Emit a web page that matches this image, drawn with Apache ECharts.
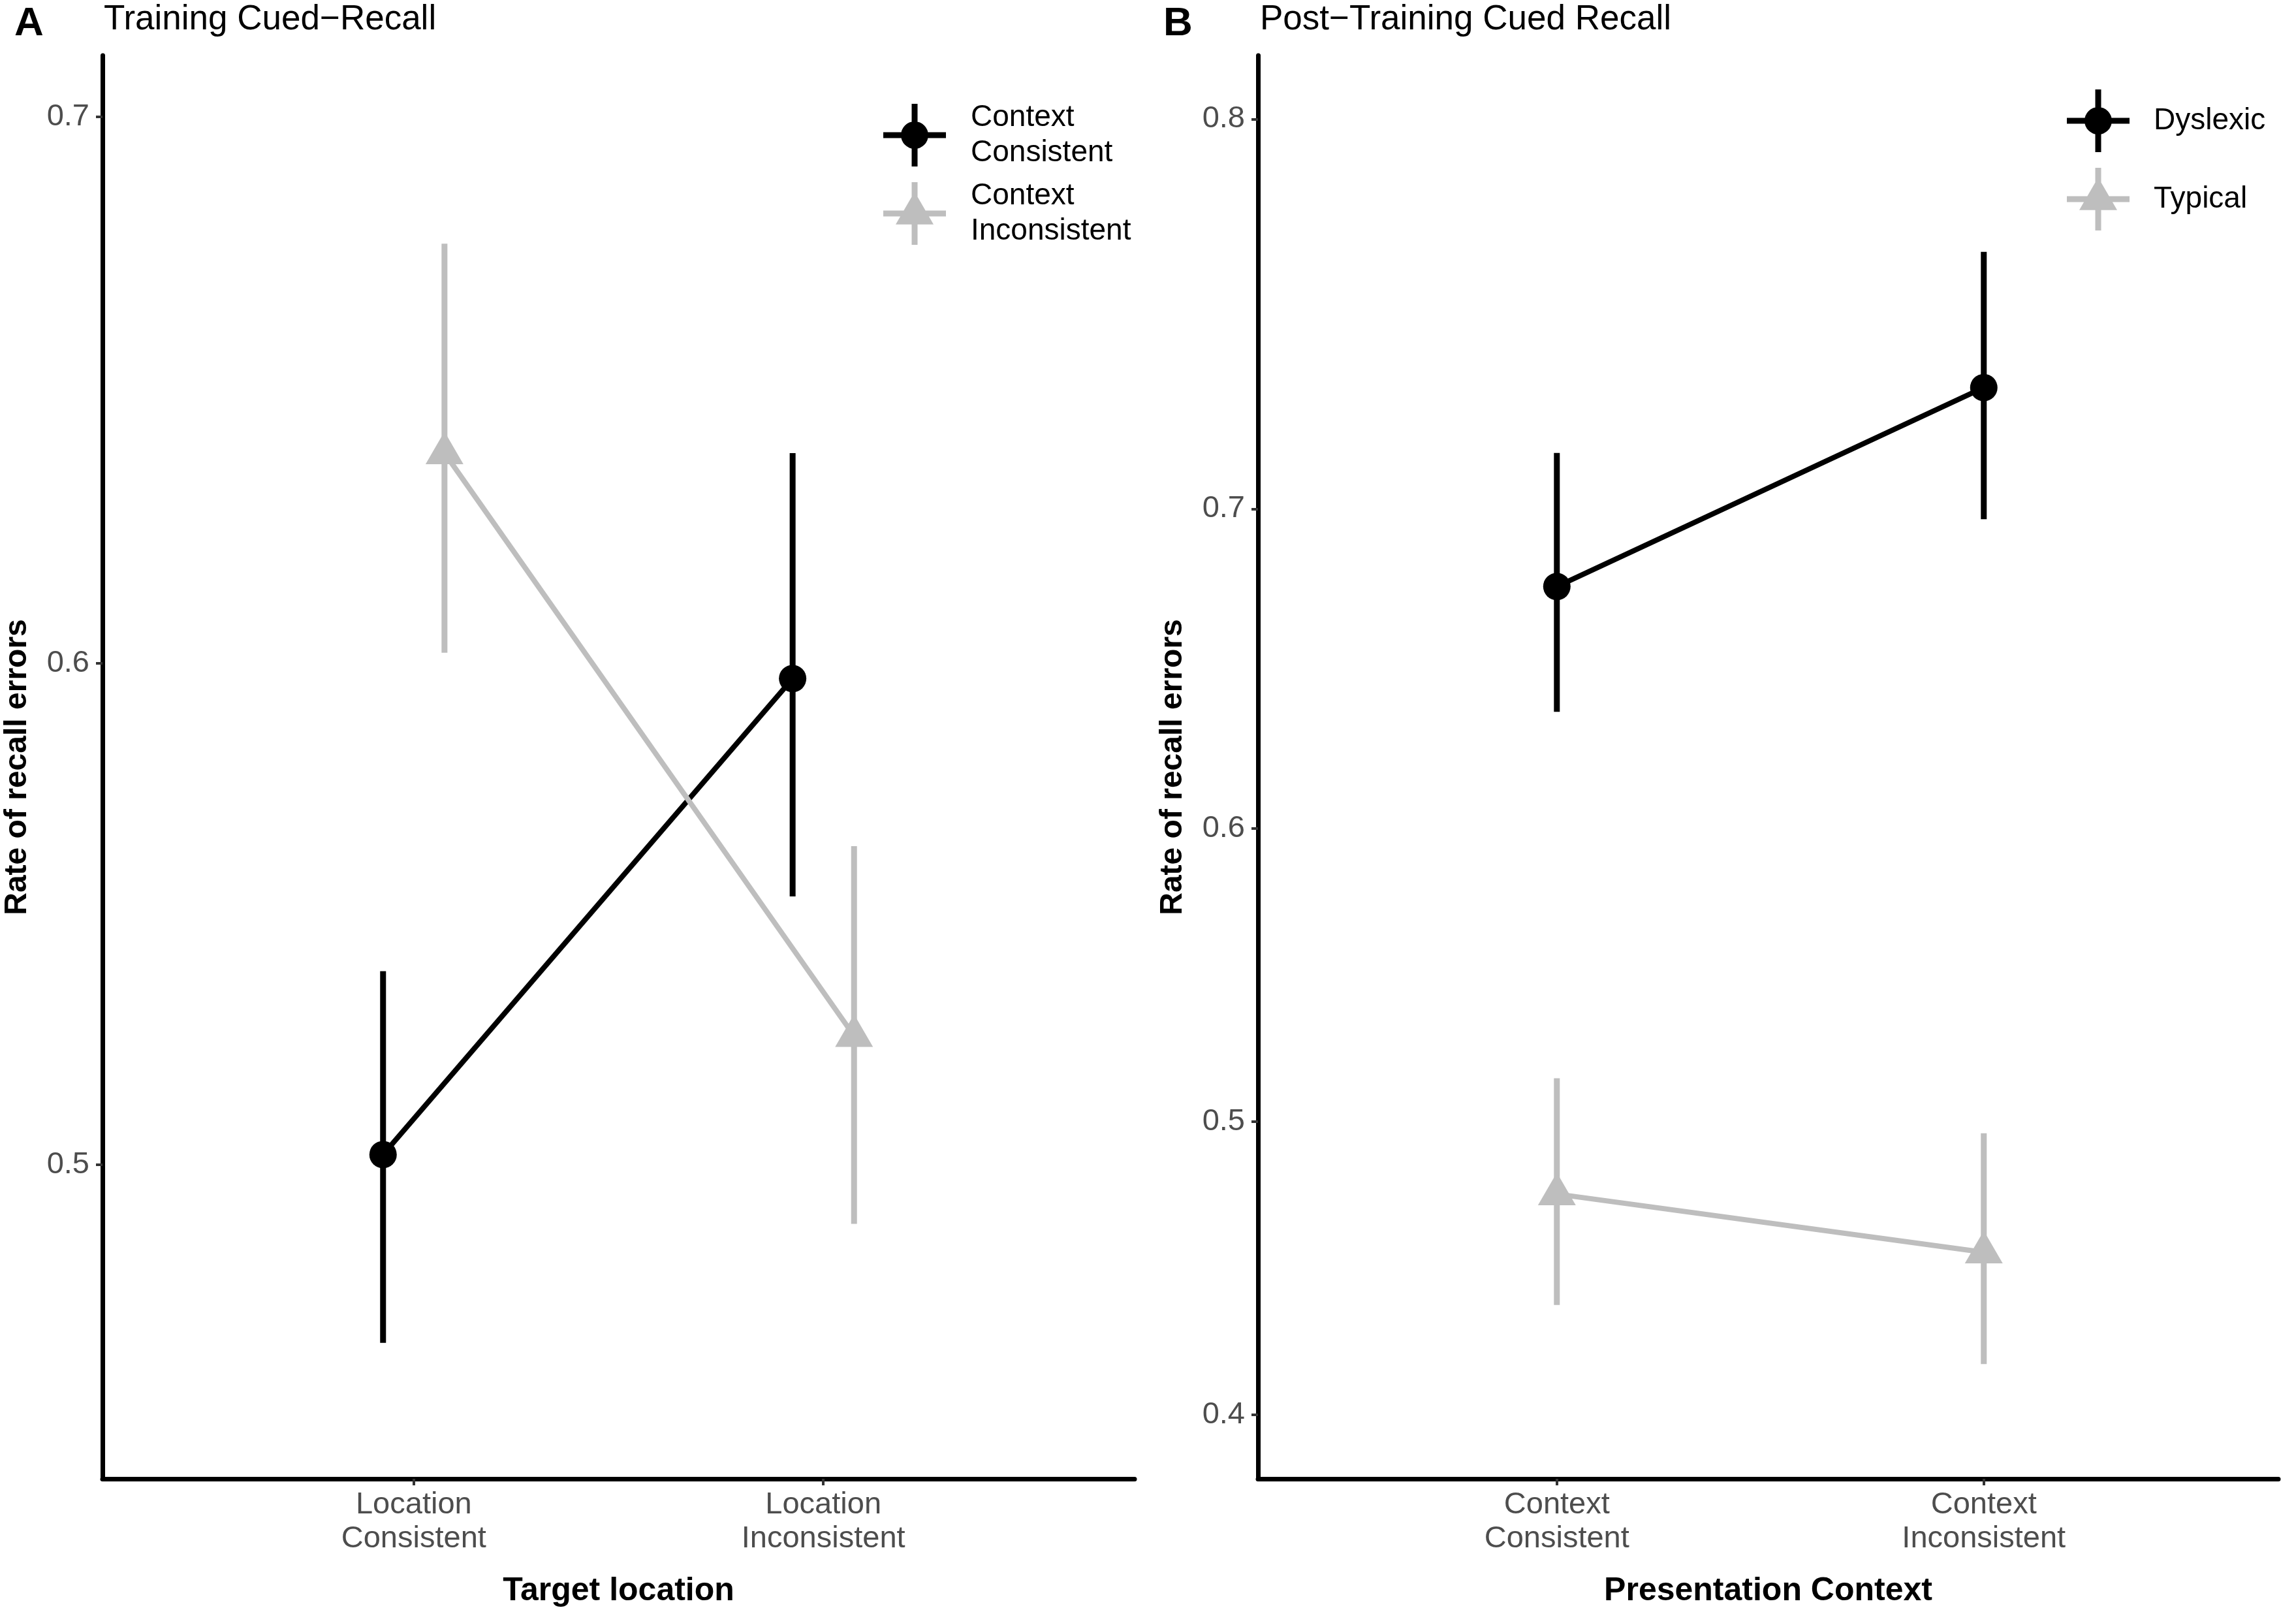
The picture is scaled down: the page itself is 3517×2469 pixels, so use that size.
<!DOCTYPE html>
<html>
<head>
<meta charset="utf-8">
<script src="https://cdn.jsdelivr.net/npm/echarts@6.0.0/dist/echarts.min.js"></script>
<style>
  html, body { margin: 0; padding: 0; background: #fff; }
  #main { width: 3517px; height: 2469px; }
</style>
</head>
<body>
<div id="main"></div>
<script>
// panel A: training cued-recall
const catsA = ['Location Consistent', 'Location Inconsistent'];
const groupsA = ['Context Consistent', 'Context Inconsistent'];
const ccMeanA = [0.502, 0.597];
const ccLowA = [0.464, 0.554];
const ccHighA = [0.539, 0.640];
const ciMeanA = [0.640, 0.526];
const ciLowA = [0.602, 0.488];
const ciHighA = [0.678, 0.564];
const ticksA = [0.5, 0.6, 0.7];

// panel B: post-training cued recall
const catsB = ['Context Consistent', 'Context Inconsistent'];
const groupsB = ['Dyslexic', 'Typical'];
const dysMeanB = [0.677, 0.734];
const dysLowB = [0.638, 0.697];
const dysHighB = [0.716, 0.769];
const typMeanB = [0.475, 0.455];
const typLowB = [0.437, 0.417];
const typHighB = [0.515, 0.496];
const ticksB = [0.4, 0.5, 0.6, 0.7, 0.8];

const FONT = '"Liberation Sans", Arial, sans-serif';
const BLACK = '#000000';
const GREY = '#BEBEBE';

// y axes are on a logit scale
function logit(p) { return Math.log(p / (1 - p)); }
function invLogit(v) { return 1 / (1 + Math.exp(-v)); }

// legend keys: point + error bar + line (96 x 96 box)
const barsPath = 'M43.5,0 L52.5,0 L52.5,96 L43.5,96 Z M0,43.5 L96,43.5 L96,52.5 L0,52.5 Z ';
const circleIcon = 'path://' + barsPath + 'M27,48 A21,21 0 1,1 69,48 A21,21 0 1,1 27,48 Z';
const triIcon = 'path://' + barsPath + 'M19,64.7 L48,14.7 L77,64.7 Z';

function pts(mean, shift) {
    return mean.map((m, i) => [i + 1 + shift, logit(m)]);
}
function bars(low, high, shift) {
    return low.map((l, i) => [i + 1 + shift, logit(l), logit(high[i])]);
}

function lineSeries(name, idx, mean, shift, color, tri) {
    return {
        name: name,
        type: 'line',
        xAxisIndex: idx,
        yAxisIndex: idx,
        data: pts(mean, shift),
        symbol: tri ? 'triangle' : 'circle',
        symbolSize: tri ? [58, 50] : 42,
        symbolOffset: tri ? [0, -8] : [0, 0],
        lineStyle: { color: color, width: 8 },
        itemStyle: { color: color },
        z: tri ? 4 : 3
    };
}

function errSeries(idx, low, high, shift, color, z) {
    return {
        name: 'err' + idx + color,
        type: 'custom',
        xAxisIndex: idx,
        yAxisIndex: idx,
        data: bars(low, high, shift),
        encode: { x: 0, y: [1, 2] },
        z: z,
        renderItem: function (params, api) {
            const a = api.coord([api.value(0), api.value(1)]);
            const b = api.coord([api.value(0), api.value(2)]);
            return {
                type: 'line',
                shape: { x1: a[0], y1: a[1], x2: b[0], y2: b[1] },
                style: { stroke: color, lineWidth: 9 }
            };
        }
    };
}

function xAxisOf(idx, cats, min, max, title) {
    return {
        type: 'value',
        gridIndex: idx,
        min: min,
        max: max,
        name: title,
        nameLocation: 'middle',
        nameGap: 147,
        nameTextStyle: { fontSize: 50, fontWeight: 'bold', color: '#000', fontFamily: FONT },
        splitLine: { show: false },
        axisLine: { onZero: false, lineStyle: { color: '#000', width: 7 } },
        axisTick: { customValues: [1, 2], length: 10, lineStyle: { color: '#333', width: 4 } },
        axisLabel: {
            customValues: [1, 2],
            margin: 14,
            fontSize: 47,
            lineHeight: 52,
            color: '#4D4D4D',
            fontFamily: FONT,
            formatter: function (v) { return cats[Math.round(v) - 1].replace(' ', '\n'); }
        }
    };
}

function yAxisOf(idx, ticks, lo, hi) {
    const tv = ticks.map(logit);
    return {
        type: 'value',
        gridIndex: idx,
        min: logit(lo),
        max: logit(hi),
        name: 'Rate of recall errors',
        nameLocation: 'middle',
        nameRotate: 90,
        nameGap: 106,
        nameTextStyle: { fontSize: 48, fontWeight: 'bold', color: '#000', fontFamily: FONT },
        splitLine: { show: false },
        axisLine: { show: true, onZero: false, lineStyle: { color: '#000', width: 7 } },
        axisTick: { customValues: tv, length: 10, lineStyle: { color: '#333', width: 4 } },
        axisLabel: {
            customValues: tv,
            margin: 20,
            fontSize: 47,
            color: '#4D4D4D',
            fontFamily: FONT,
            formatter: function (v) { return invLogit(v).toFixed(1); }
        }
    };
}

let chart;

const option = {
    animation: false,
    backgroundColor: '#fff',
    title: [
        { text: 'A', left: 22, top: 6, padding: 0, textStyle: { fontSize: 62, fontWeight: 'bold', color: '#000', fontFamily: FONT } },
        { text: 'Training Cued\u2212Recall', left: 159, top: 4, padding: 0, textStyle: { fontSize: 53, fontWeight: 'normal', color: '#000', fontFamily: FONT } },
        { text: 'B', left: 1782, top: 6, padding: 0, textStyle: { fontSize: 62, fontWeight: 'bold', color: '#000', fontFamily: FONT } },
        { text: 'Post\u2212Training Cued Recall', left: 1930, top: 4, padding: 0, textStyle: { fontSize: 53, fontWeight: 'normal', color: '#000', fontFamily: FONT } }
    ],
    legend: [
        {
            orient: 'vertical',
            left: 1353,
            top: 153,
            padding: 0,
            itemWidth: 96,
            itemHeight: 96,
            itemGap: 12,
            selectedMode: false,
            data: [
                { name: groupsA[0], icon: circleIcon, itemStyle: { color: BLACK } },
                { name: groupsA[1], icon: triIcon, itemStyle: { color: GREY } }
            ],
            formatter: function (n) { return n.replace(' ', '\n'); },
            textStyle: { fontSize: 46, lineHeight: 54, color: '#000', fontFamily: FONT, padding: [0, 0, 0, 33] }
        },
        {
            orient: 'vertical',
            left: 3166,
            top: 137,
            padding: 0,
            itemWidth: 96,
            itemHeight: 96,
            itemGap: 24,
            selectedMode: false,
            data: [
                { name: groupsB[0], icon: circleIcon, itemStyle: { color: BLACK } },
                { name: groupsB[1], icon: triIcon, itemStyle: { color: GREY } }
            ],
            textStyle: { fontSize: 46, color: '#000', fontFamily: FONT, padding: [0, 0, 0, 32] }
        }
    ],
    grid: [
        { left: 157, top: 85, width: 1581, height: 2180 },
        { left: 1927, top: 85, width: 1563, height: 2180 }
    ],
    xAxis: [
        xAxisOf(0, catsA, 0.24, 2.76, 'Target location'),
        xAxisOf(1, catsB, 0.3, 2.69, 'Presentation Context')
    ],
    yAxis: [
        yAxisOf(0, ticksA, 0.4368, 0.7103),
        yAxisOf(1, ticksB, 0.379, 0.8137)
    ],
    series: [
        errSeries(0, ccLowA, ccHighA, -0.075, BLACK, 2),
        lineSeries(groupsA[0], 0, ccMeanA, -0.075, BLACK, false),
        errSeries(0, ciLowA, ciHighA, 0.075, GREY, 2),
        lineSeries(groupsA[1], 0, ciMeanA, 0.075, GREY, true),

        errSeries(1, dysLowB, dysHighB, 0, BLACK, 2),
        lineSeries(groupsB[0], 1, dysMeanB, 0, BLACK, false),
        errSeries(1, typLowB, typHighB, 0, GREY, 2),
        lineSeries(groupsB[1], 1, typMeanB, 0, GREY, true)
    ]
};

chart = echarts.init(document.getElementById('main'), null, { renderer: 'canvas' });
chart.setOption(option);
</script>
</body>
</html>
